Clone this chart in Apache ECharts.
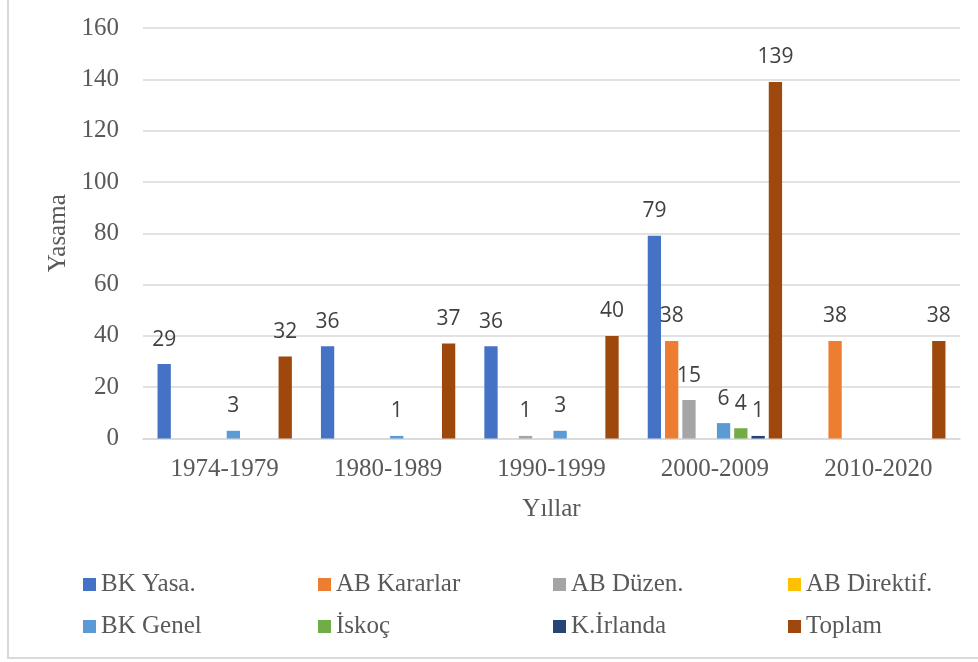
<!DOCTYPE html>
<html>
<head>
<meta charset="utf-8">
<script src="https://cdn.jsdelivr.net/npm/echarts@6/dist/echarts.min.js"></script>
<style>
  html, body { margin: 0; padding: 0; background: #fff; }
  #chart { width: 978px; height: 662px; }
</style>
</head>
<body>
<div id="chart"></div>
<script>
// categories and values
const years = ['1974-1979', '1980-1989', '1990-1999', '2000-2009', '2010-2020'];
const bkYasa = [29, 36, 36, 79, 0];
const abKararlar = [0, 0, 0, 38, 38];
const abDuzen = [0, 0, 1, 15, 0];
const abDirektif = [0, 0, 0, 0, 0];
const bkGenel = [3, 1, 3, 6, 0];
const iskoc = [0, 0, 0, 4, 0];
const kIrlanda = [0, 0, 0, 1, 0];
const toplam = [32, 37, 40, 139, 38];
const yTicks = [0, 20, 40, 60, 80, 100, 120, 140, 160];

const seriesDefs = [
  { name: 'BK Yasa.', data: bkYasa, color: '#4472C4' },
  { name: 'AB Kararlar', data: abKararlar, color: '#ED7D31' },
  { name: 'AB Düzen.', data: abDuzen, color: '#A5A5A5' },
  { name: 'AB Direktif.', data: abDirektif, color: '#FFC000' },
  { name: 'BK Genel', data: bkGenel, color: '#5B9BD5' },
  { name: 'İskoç', data: iskoc, color: '#70AD47' },
  { name: 'K.İrlanda', data: kIrlanda, color: '#264478' },
  { name: 'Toplam', data: toplam, color: '#9E480E' },
];

const serif = '"Liberation Serif", "Times New Roman", serif';
const gray = '#595959';

const chart = echarts.init(document.getElementById('chart'));

// legend laid out as a 4 x 2 grid, one legend per entry
const legends = seriesDefs.map((s, i) => ({
  orient: 'horizontal',
  left: 78 + (i % 4) * 235,
  top: i < 4 ? 567 : 609,
  itemWidth: 13,
  itemHeight: 13,
  icon: 'rect',
  textStyle: { fontFamily: serif, fontSize: 25, color: gray },
  data: [s.name],
}));

const option = {
  animation: false,
  grid: { left: 143, right: 18, top: 28, bottom: 223.5, containLabel: false },
  legend: legends,
  xAxis: {
    type: 'category',
    data: years,
    name: 'Yıllar',
    nameLocation: 'middle',
    nameGap: 58,
    nameTextStyle: { fontFamily: serif, fontSize: 25, color: gray },
    axisLine: { show: true, lineStyle: { color: '#d9d9d9', width: 1.5 } },
    axisTick: { show: false },
    axisLabel: { fontFamily: serif, fontSize: 25, color: gray, margin: 18 },
  },
  yAxis: {
    type: 'value',
    min: yTicks[0],
    max: yTicks[yTicks.length - 1],
    interval: 20,
    name: 'Yasama',
    nameLocation: 'middle',
    nameGap: 70,
    nameTextStyle: { fontFamily: serif, fontSize: 25, color: gray },
    axisLine: { show: false },
    axisTick: { show: false },
    axisLabel: { fontFamily: serif, fontSize: 25, color: gray, margin: 24 },
    splitLine: { lineStyle: { color: '#d9d9d9', width: 1.5 } },
  },
  series: seriesDefs.map(s => ({
    name: s.name,
    type: 'bar',
    data: s.data,
    barWidth: 13.3,
    barGap: '30%',
    itemStyle: { color: s.color },
    label: {
      show: true,
      position: 'top',
      distance: 14,
      fontFamily: '"Open Sans", "Liberation Sans", Arial, sans-serif',
      fontSize: 21,
      color: '#404040',
      formatter: p => (p.value ? String(p.value) : ''),
    },
  })),
  graphic: [
    {
      type: 'rect',
      shape: { x: 8, y: -10, width: 1000, height: 668 },
      style: { fill: 'none', stroke: '#d9d9d9', lineWidth: 2 },
      silent: true,
    },
  ],
};

chart.setOption(option);
</script>
</body>
</html>
